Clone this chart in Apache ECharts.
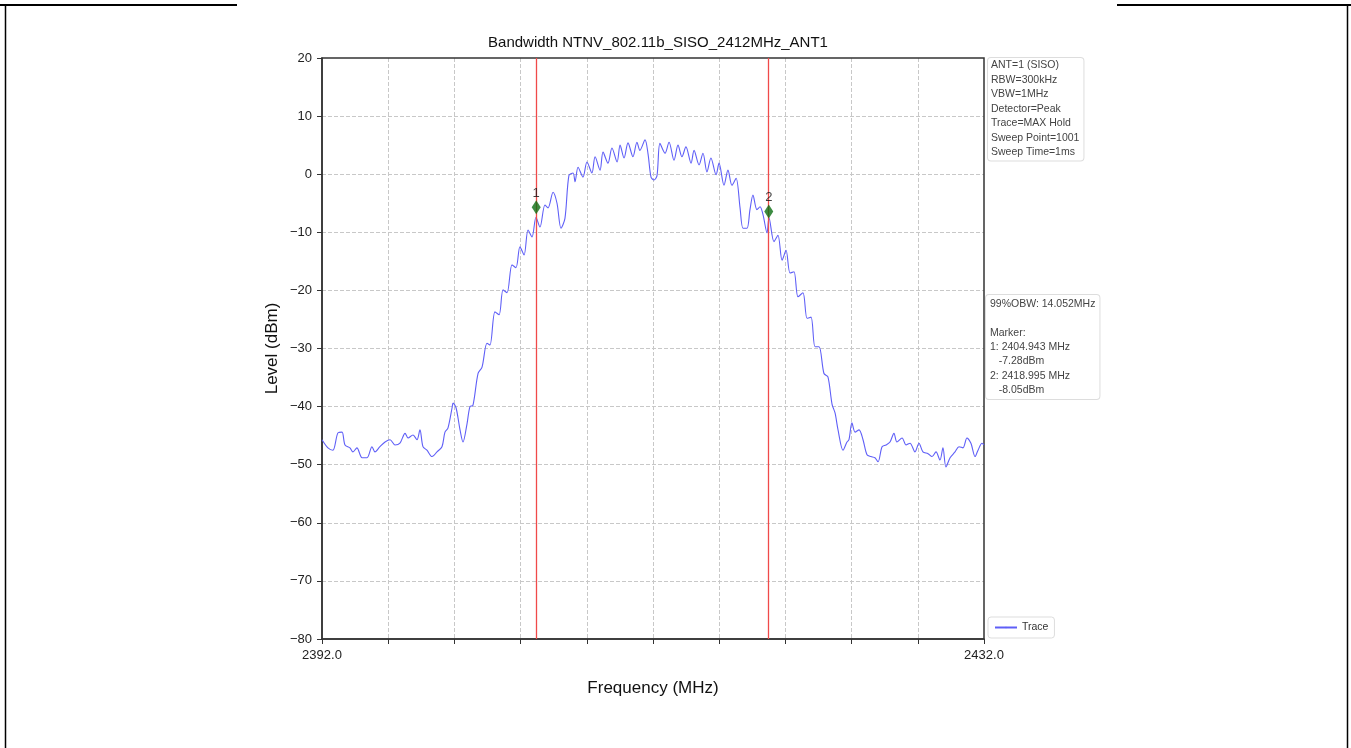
<!DOCTYPE html>
<html>
<head>
<meta charset="utf-8">
<title>Bandwidth NTNV_802.11b_SISO_2412MHz_ANT1</title>
<script src="https://cdn.jsdelivr.net/npm/echarts@6.0.0/dist/echarts.min.js"></script>
<style>
  html, body { margin: 0; padding: 0; background: #fff; }
  #chart { width: 1351px; height: 748px; }
</style>
</head>
<body>
<div id="chart"></div>
<script>
// trace (MHz, dBm)
const freqMHz = [
  2392.00, 2392.36, 2392.66, 2392.97, 2393.21, 2393.39, 2393.69, 2393.87, 2394.11, 2394.42,
  2394.72, 2395.02, 2395.20, 2395.50, 2395.81, 2396.11, 2396.41, 2396.71, 2397.02, 2397.20,
  2397.50, 2397.74, 2397.92, 2398.10, 2398.34, 2398.65, 2398.95, 2399.25, 2399.43, 2399.61,
  2399.86, 2399.92, 2400.10, 2400.34, 2400.52, 2400.76, 2400.94, 2401.12, 2401.43, 2401.67,
  2401.97, 2402.15, 2402.45, 2402.70, 2402.94, 2403.18, 2403.48, 2403.72, 2403.96, 2404.21,
  2404.45, 2404.69, 2404.93, 2405.17, 2405.47, 2405.66, 2405.96, 2406.20, 2406.44, 2406.68,
  2406.92, 2407.17, 2407.29, 2407.47, 2407.77, 2408.01, 2408.31, 2408.50, 2408.80, 2408.98,
  2409.28, 2409.52, 2409.83, 2410.01, 2410.25, 2410.49, 2410.79, 2411.03, 2411.21, 2411.52,
  2411.70, 2411.88, 2412.06, 2412.24, 2412.42, 2412.73, 2412.97, 2413.27, 2413.51, 2413.75,
  2413.99, 2414.30, 2414.48, 2414.78, 2415.02, 2415.26, 2415.50, 2415.81, 2415.99, 2416.29,
  2416.53, 2416.77, 2417.02, 2417.26, 2417.44, 2417.68, 2417.86, 2418.04, 2418.28, 2418.47,
  2418.65, 2418.89, 2419.01, 2419.31, 2419.55, 2419.80, 2420.04, 2420.28, 2420.52, 2420.76,
  2421.06, 2421.31, 2421.55, 2421.79, 2422.03, 2422.33, 2422.57, 2422.82, 2423.00, 2423.18,
  2423.48, 2423.72, 2423.84, 2424.02, 2424.21, 2424.45, 2424.69, 2424.93, 2425.17, 2425.41,
  2425.60, 2425.84, 2426.08, 2426.32, 2426.56, 2426.74, 2427.05, 2427.29, 2427.53, 2427.83,
  2428.07, 2428.31, 2428.62, 2428.86, 2429.10, 2429.34, 2429.52, 2429.70, 2429.95, 2430.25,
  2430.49, 2430.73, 2430.97, 2431.21, 2431.46, 2431.64, 2431.88, 2432.00
];
const levelDbm = [
  -45.7, -47.1, -47.5, -44.5, -44.4, -46.6, -47.1, -47.8, -47.1, -48.8,
  -48.8, -46.9, -47.8, -46.9, -46.1, -45.7, -46.6, -46.3, -44.6, -45.4,
  -44.9, -45.7, -44.0, -46.9, -47.5, -48.6, -47.8, -46.9, -44.4, -43.7,
  -40.2, -39.4, -40.2, -44.0, -46.1, -43.0, -40.0, -39.8, -34.3, -33.2,
  -29.1, -29.4, -23.7, -24.2, -19.9, -20.4, -15.6, -16.1, -12.5, -13.9,
  -9.6, -10.8, -7.4, -9.1, -5.3, -5.8, -3.1, -5.0, -9.3, -7.6,
  -0.2, 0.2, -1.3, 1.2, -0.5, 2.1, 0.2, 3.0, 0.7, 3.8,
  1.9, 4.5, 2.1, 5.0, 2.8, 5.4, 3.0, 5.5, 4.1, 5.9,
  3.5, -0.5, -1.0, -0.3, 5.3, 3.6, 5.5, 2.4, 5.0, 3.0,
  4.7, 1.9, 4.1, 1.6, 3.6, 0.4, 2.8, -0.1, 1.9, -1.9,
  0.7, -1.9, -0.7, -5.8, -9.3, -9.3, -6.1, -3.6, -6.1, -5.6,
  -7.0, -10.1, -7.5, -11.6, -10.5, -14.8, -13.1, -17.0, -16.8, -21.1,
  -20.4, -24.8, -24.6, -29.7, -29.7, -34.3, -34.9, -39.6, -41.1, -44.0,
  -47.5, -46.1, -45.7, -42.8, -44.4, -44.0, -45.7, -48.3, -48.6, -48.8,
  -49.5, -46.9, -46.6, -46.1, -44.6, -46.1, -45.4, -46.6, -46.3, -47.8,
  -46.3, -47.8, -48.1, -48.6, -47.8, -49.2, -47.1, -50.4, -48.8, -47.8,
  -46.9, -47.1, -45.4, -46.3, -48.6, -47.5, -46.3, -46.6
];

// OBW markers
const markerNames = ['1', '2'];
const markerFreq = [2404.943, 2418.995];
const markerLevel = [-5.7, -6.4];

const infoLines = [
  'ANT=1 (SISO)', 'RBW=300kHz', 'VBW=1MHz', 'Detector=Peak',
  'Trace=MAX Hold', 'Sweep Point=1001', 'Sweep Time=1ms'
];
const resultLines = [
  '99%OBW: 14.052MHz', '', 'Marker:', '1: 2404.943 MHz', '   -7.28dBm',
  '2: 2418.995 MHz', '   -8.05dBm'
];

const xMin = 2392, xMax = 2432, xStep = 4;
const yMin = -80, yMax = 20, yStep = 10;

const font = '"Liberation Sans", Arial, sans-serif';
const axisColor = '#333';
const gridColor = '#c8c8c8';

const chart = echarts.init(document.getElementById('chart'));

const traceData = freqMHz.map((f, i) => [f, levelDbm[i]]);
const markerData = markerFreq.map((f, i) => ({ name: markerNames[i], value: [f, markerLevel[i]] }));

chart.setOption({
  animation: false,
  backgroundColor: '#fff',
  textStyle: { fontFamily: font },
  title: {
    text: 'Bandwidth NTNV_802.11b_SISO_2412MHz_ANT1',
    left: 653,
    textAlign: 'center',
    top: 30,
    textStyle: { fontSize: 15, fontWeight: 'normal', color: '#111', fontFamily: font }
  },
  legend: {
    data: ['Trace'],
    left: 988,
    top: 617,
    padding: [5, 6],
    itemWidth: 22,
    itemHeight: 2,
    borderColor: '#ddd',
    borderWidth: 1,
    borderRadius: 3,
    backgroundColor: '#fff',
    textStyle: { fontSize: 10.5, color: '#333', fontFamily: font }
  },
  grid: {
    left: 322,
    top: 58,
    width: 662,
    height: 581,
    show: true,
    borderColor: axisColor,
    borderWidth: 1.5,
    backgroundColor: 'transparent',
    z: 3
  },
  xAxis: {
    type: 'value',
    min: xMin,
    max: xMax,
    interval: xStep,
    name: 'Frequency (MHz)',
    nameLocation: 'middle',
    nameGap: 41,
    nameTextStyle: { fontSize: 17, color: '#111', fontFamily: font },
    axisLine: { onZero: false, lineStyle: { color: axisColor, width: 1.5 } },
    axisTick: { length: 5, lineStyle: { color: axisColor } },
    axisLabel: {
      margin: 10,
      fontSize: 13,
      color: '#222',
      showMinLabel: true,
      showMaxLabel: true,
      formatter: v => (v === xMin || v === xMax) ? v.toFixed(1) : ''
    },
    splitLine: {
      show: true,
      showMinLine: false,
      showMaxLine: false,
      lineStyle: { color: gridColor, type: 'dashed', width: 1 }
    }
  },
  yAxis: {
    type: 'value',
    min: yMin,
    max: yMax,
    interval: yStep,
    name: 'Level (dBm)',
    nameLocation: 'middle',
    nameGap: 41,
    nameTextStyle: { fontSize: 17, color: '#111', fontFamily: font },
    axisLine: { show: true, onZero: false, lineStyle: { color: axisColor, width: 1.5 } },
    axisTick: { show: true, length: 5, lineStyle: { color: axisColor } },
    axisLabel: {
      margin: 10,
      fontSize: 13,
      color: '#222',
      formatter: v => String(v).replace('-', '\u2212')
    },
    splitLine: {
      show: true,
      showMinLine: false,
      showMaxLine: false,
      lineStyle: { color: gridColor, type: 'dashed', width: 1 }
    }
  },
  series: [
    {
      name: 'Trace',
      type: 'line',
      data: traceData,
      showSymbol: false,
      symbol: 'none',
      smooth: 0.3,
      lineStyle: { color: '#5f5ff7', width: 1.1 },
      itemStyle: { color: '#5f5ff7' },
      markLine: {
        silent: true,
        symbol: 'none',
        label: { show: false },
        lineStyle: { color: '#f04a4a', type: 'solid', width: 1.3 },
        data: markerFreq.map(f => ({ xAxis: f }))
      },
      z: 3
    },
    {
      name: 'Markers',
      type: 'scatter',
      data: markerData,
      symbol: 'diamond',
      symbolSize: [9, 14],
      itemStyle: { color: '#0b6e12' },
      label: {
        show: true,
        position: 'top',
        distance: 0,
        formatter: p => p.name,
        fontSize: 13,
        color: '#111',
        fontFamily: font
      },
      z: 5
    }
  ],
  graphic: [
    // page frame
    { type: 'line', shape: { x1: 0, y1: 5, x2: 237, y2: 5 }, style: { stroke: '#000', lineWidth: 2 }, silent: true },
    { type: 'line', shape: { x1: 1117, y1: 5, x2: 1351, y2: 5 }, style: { stroke: '#000', lineWidth: 2 }, silent: true },
    { type: 'line', shape: { x1: 5.5, y1: 5, x2: 5.5, y2: 748 }, style: { stroke: '#000', lineWidth: 1.5 }, silent: true },
    { type: 'line', shape: { x1: 1347.5, y1: 5, x2: 1347.5, y2: 748 }, style: { stroke: '#000', lineWidth: 1.5 }, silent: true },
    // settings box
    {
      type: 'text',
      left: 987,
      top: 57,
      silent: true,
      style: {
        text: infoLines.join('\n'),
        font: '10.5px ' + font,
        fill: '#444',
        lineHeight: 14.5,
        backgroundColor: '#fff',
        borderColor: '#ddd',
        borderWidth: 1,
        borderRadius: 3,
        padding: [0, 4, 1, 3]
      }
    },
    // result box
    {
      type: 'text',
      left: 985,
      top: 294,
      silent: true,
      style: {
        text: resultLines.join('\n'),
        font: '10.5px ' + font,
        fill: '#444',
        lineHeight: 14.3,
        backgroundColor: '#fff',
        borderColor: '#ddd',
        borderWidth: 1,
        borderRadius: 3,
        padding: [2, 4, 2, 4]
      }
    }
  ]
});
</script>
</body>
</html>
